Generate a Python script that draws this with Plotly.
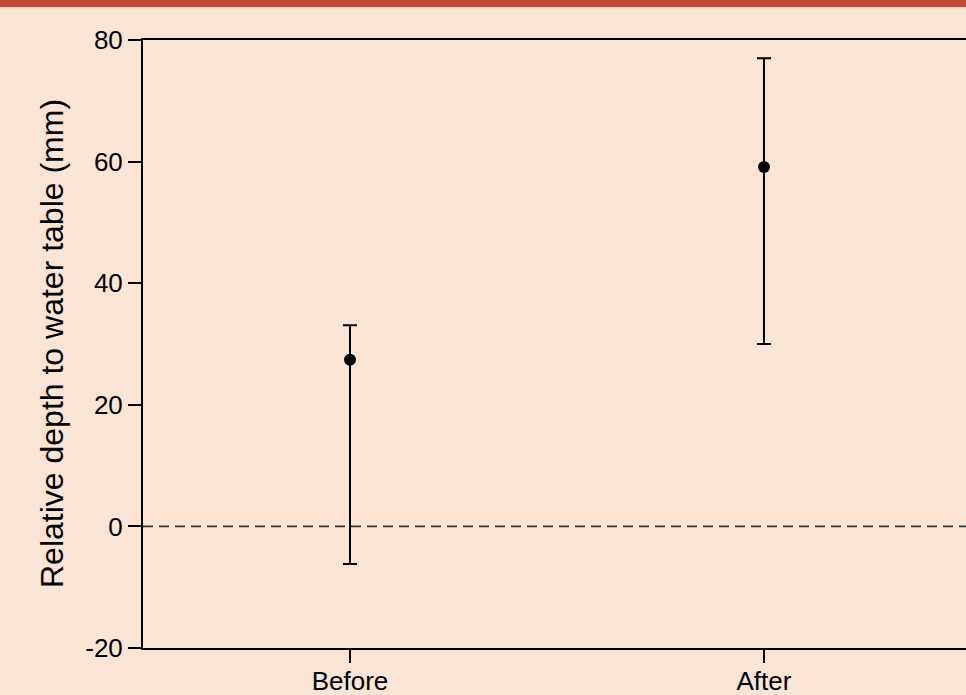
import plotly.graph_objects as go

# Water table depth relative to reference, before vs after
periods = ["Before", "After"]
mean_depth = [27.4, 59.1]
upper_bound = [33.1, 77.0]
lower_bound = [-6.2, 30.0]
y_ticks = [-20, 0, 20, 40, 60, 80]
y_tick_labels = ["-20", "0", "20", "40", "60", "80"]

err_plus = [u - m for u, m in zip(upper_bound, mean_depth)]
err_minus = [m - l for m, l in zip(mean_depth, lower_bound)]

BG = "#FAE5D5"
INK = "#000000"
FONT = "Liberation Sans, Arial, sans-serif"

x_pos = list(range(len(periods)))

fig = go.Figure()
fig.add_trace(go.Scatter(
    x=x_pos,
    y=mean_depth,
    mode="markers",
    marker=dict(color=INK, size=12),
    error_y=dict(
        type="data",
        symmetric=False,
        array=err_plus,
        arrayminus=err_minus,
        color=INK,
        thickness=2,
        width=7,
    ),
    showlegend=False,
))

# zero reference line
fig.add_hline(y=0, line=dict(color="#333333", width=1.8, dash="10px,6px"), layer="below")

# coloured band along the top edge
fig.add_shape(type="rect", xref="paper", yref="paper",
              x0=-0.2, x1=1.01, y0=(648 - 7) / 608, y1=(648 + 2) / 608,
              fillcolor="#C24B35", line=dict(width=0), layer="above")

fig.add_annotation(
    text="Relative depth to water table (mm)",
    xref="paper", yref="paper",
    x=(52 - 143) / 823, y=0.5,
    xanchor="center", yanchor="middle",
    textangle=-90, showarrow=False,
    font=dict(family=FONT, size=32, color=INK),
)

fig.update_layout(
    width=966, height=695,
    margin=dict(l=143, r=0, t=40, b=47, pad=0, autoexpand=False),
    paper_bgcolor=BG, plot_bgcolor=BG,
    font=dict(family=FONT, color=INK),
    xaxis=dict(
        range=[-0.5, 1.488], automargin=False,
        tickmode="array", tickvals=x_pos, ticktext=periods,
        ticks="outside", ticklen=13, tickwidth=2, tickcolor=INK,
        ticklabelstandoff=-4,
        showline=True, linecolor=INK, linewidth=2, mirror=True,
        showgrid=False, zeroline=False,
        tickfont=dict(family=FONT, size=26, color=INK),
    ),
    yaxis=dict(
        range=[-20, 80], automargin=False,
        tickmode="array", tickvals=y_ticks, ticktext=y_tick_labels,
        ticks="outside", ticklen=13, tickwidth=2, tickcolor=INK,
        showline=True, linecolor=INK, linewidth=2,
        showgrid=False, zeroline=False,
        tickfont=dict(family=FONT, size=26, color=INK),
    ),
)

fig.write_html("out.html")
